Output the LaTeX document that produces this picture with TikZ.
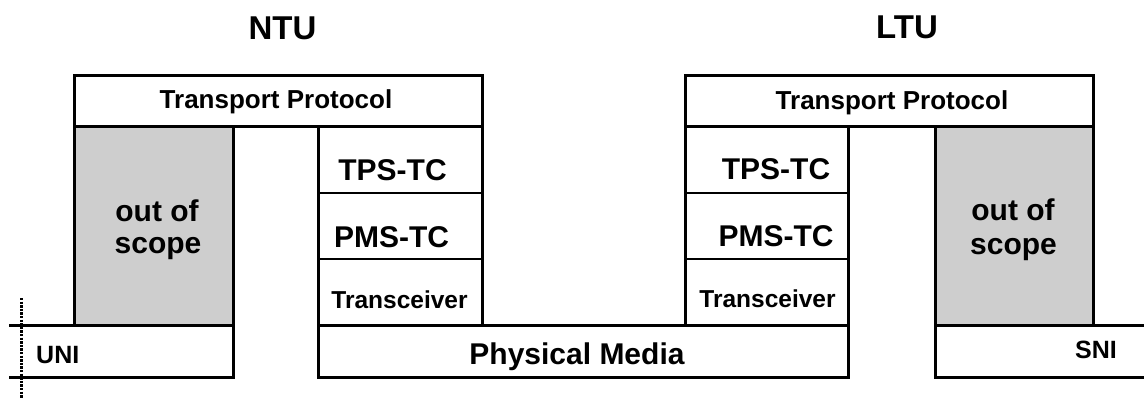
\documentclass[tikz,border=0pt]{standalone}
\usepackage{fontspec}
\setmainfont{Liberation Sans}
\definecolor{oosgray}{RGB}{206,206,206}
\begin{document}
\begin{tikzpicture}[x=1pt,y=-1pt,
  thick line/.style={line width=3pt},
  thin line/.style={line width=1.8pt},
  lbl/.style={inner sep=0pt,anchor=base,font=\bfseries},
  big/.style={lbl,font=\bfseries\fontsize{30}{33}\selectfont},
  mid/.style={lbl,font=\bfseries\fontsize{26}{30}\selectfont},
  small/.style={lbl,font=\bfseries\fontsize{24.5}{28}\selectfont},
  title/.style={lbl,font=\bfseries\fontsize{33}{38}\selectfont},
  oos/.style={fill=oosgray,thick line}]
\useasboundingbox (0,0) rectangle (1144,399);
% ---------- NTU side ----------
\draw[thick line] (74,75) rectangle (482,126);
\draw[oos] (74,126) rectangle (233,325);
\draw[thick line] (318,126) -- (318,325);
\draw[thick line] (482,126) -- (482,325);
\draw[thin line] (318,193) -- (482,193);
\draw[thin line] (318,259) -- (482,259);
% UNI box
\draw[thick line] (9,325) -- (233,325) -- (233,377) -- (9,377);
% Physical media
\draw[thick line] (318,325) rectangle (848,377);
% ---------- LTU side ----------
\draw[thick line] (685,75) rectangle (1093,126);
\draw[oos] (935,126) rectangle (1093,325);
\draw[thick line] (685,126) -- (685,325);
\draw[thick line] (848,126) -- (848,325);
\draw[thin line] (685,193) -- (848,193);
\draw[thin line] (685,259) -- (848,259);
% SNI box
\draw[thick line] (1144,325) -- (935,325) -- (935,377) -- (1144,377);
% dotted reference line
\coordinate (dtop) at (21,298);
\coordinate (dbot) at (21,399);
\draw[line width=3pt,dash pattern=on 2.4pt off 1.2pt] (dtop) -- (dbot);
% ---------- texts ----------
\node[title] (ntu) at (282.5,39) {NTU};
\node[title] (ltu) at (907,38) {LTU};
\node[mid] (tpL) at (276,108) {Transport Protocol};
\node[mid] (tpR) at (892,109) {Transport Protocol};
\node[big] (tpsL) at (392.5,180) {TPS-TC};
\node[big] (pmsL) at (391.5,247) {PMS-TC};
\node[small] (trxL) at (399.5,308) {Transceiver};
\node[big] (tpsR) at (776,179) {TPS-TC};
\node[big] (pmsR) at (776,246) {PMS-TC};
\node[small] (trxR) at (767.5,307) {Transceiver};
\node[big] (oosL1) at (157,221) {out of};
\node[big] (oosL2) at (158,253) {scope};
\node[big] (oosR1) at (1013,220) {out of};
\node[big] (oosR2) at (1013.5,254) {scope};
\node[big] (pm) at (577,364) {Physical Media};
\node[lbl,anchor=base west,font=\bfseries\fontsize{25}{30}\selectfont] (uni) at (36,363) {UNI};
\node[lbl,anchor=base east,font=\bfseries\fontsize{25}{30}\selectfont] (sni) at (1117,358) {SNI};
\end{tikzpicture}
\end{document}
